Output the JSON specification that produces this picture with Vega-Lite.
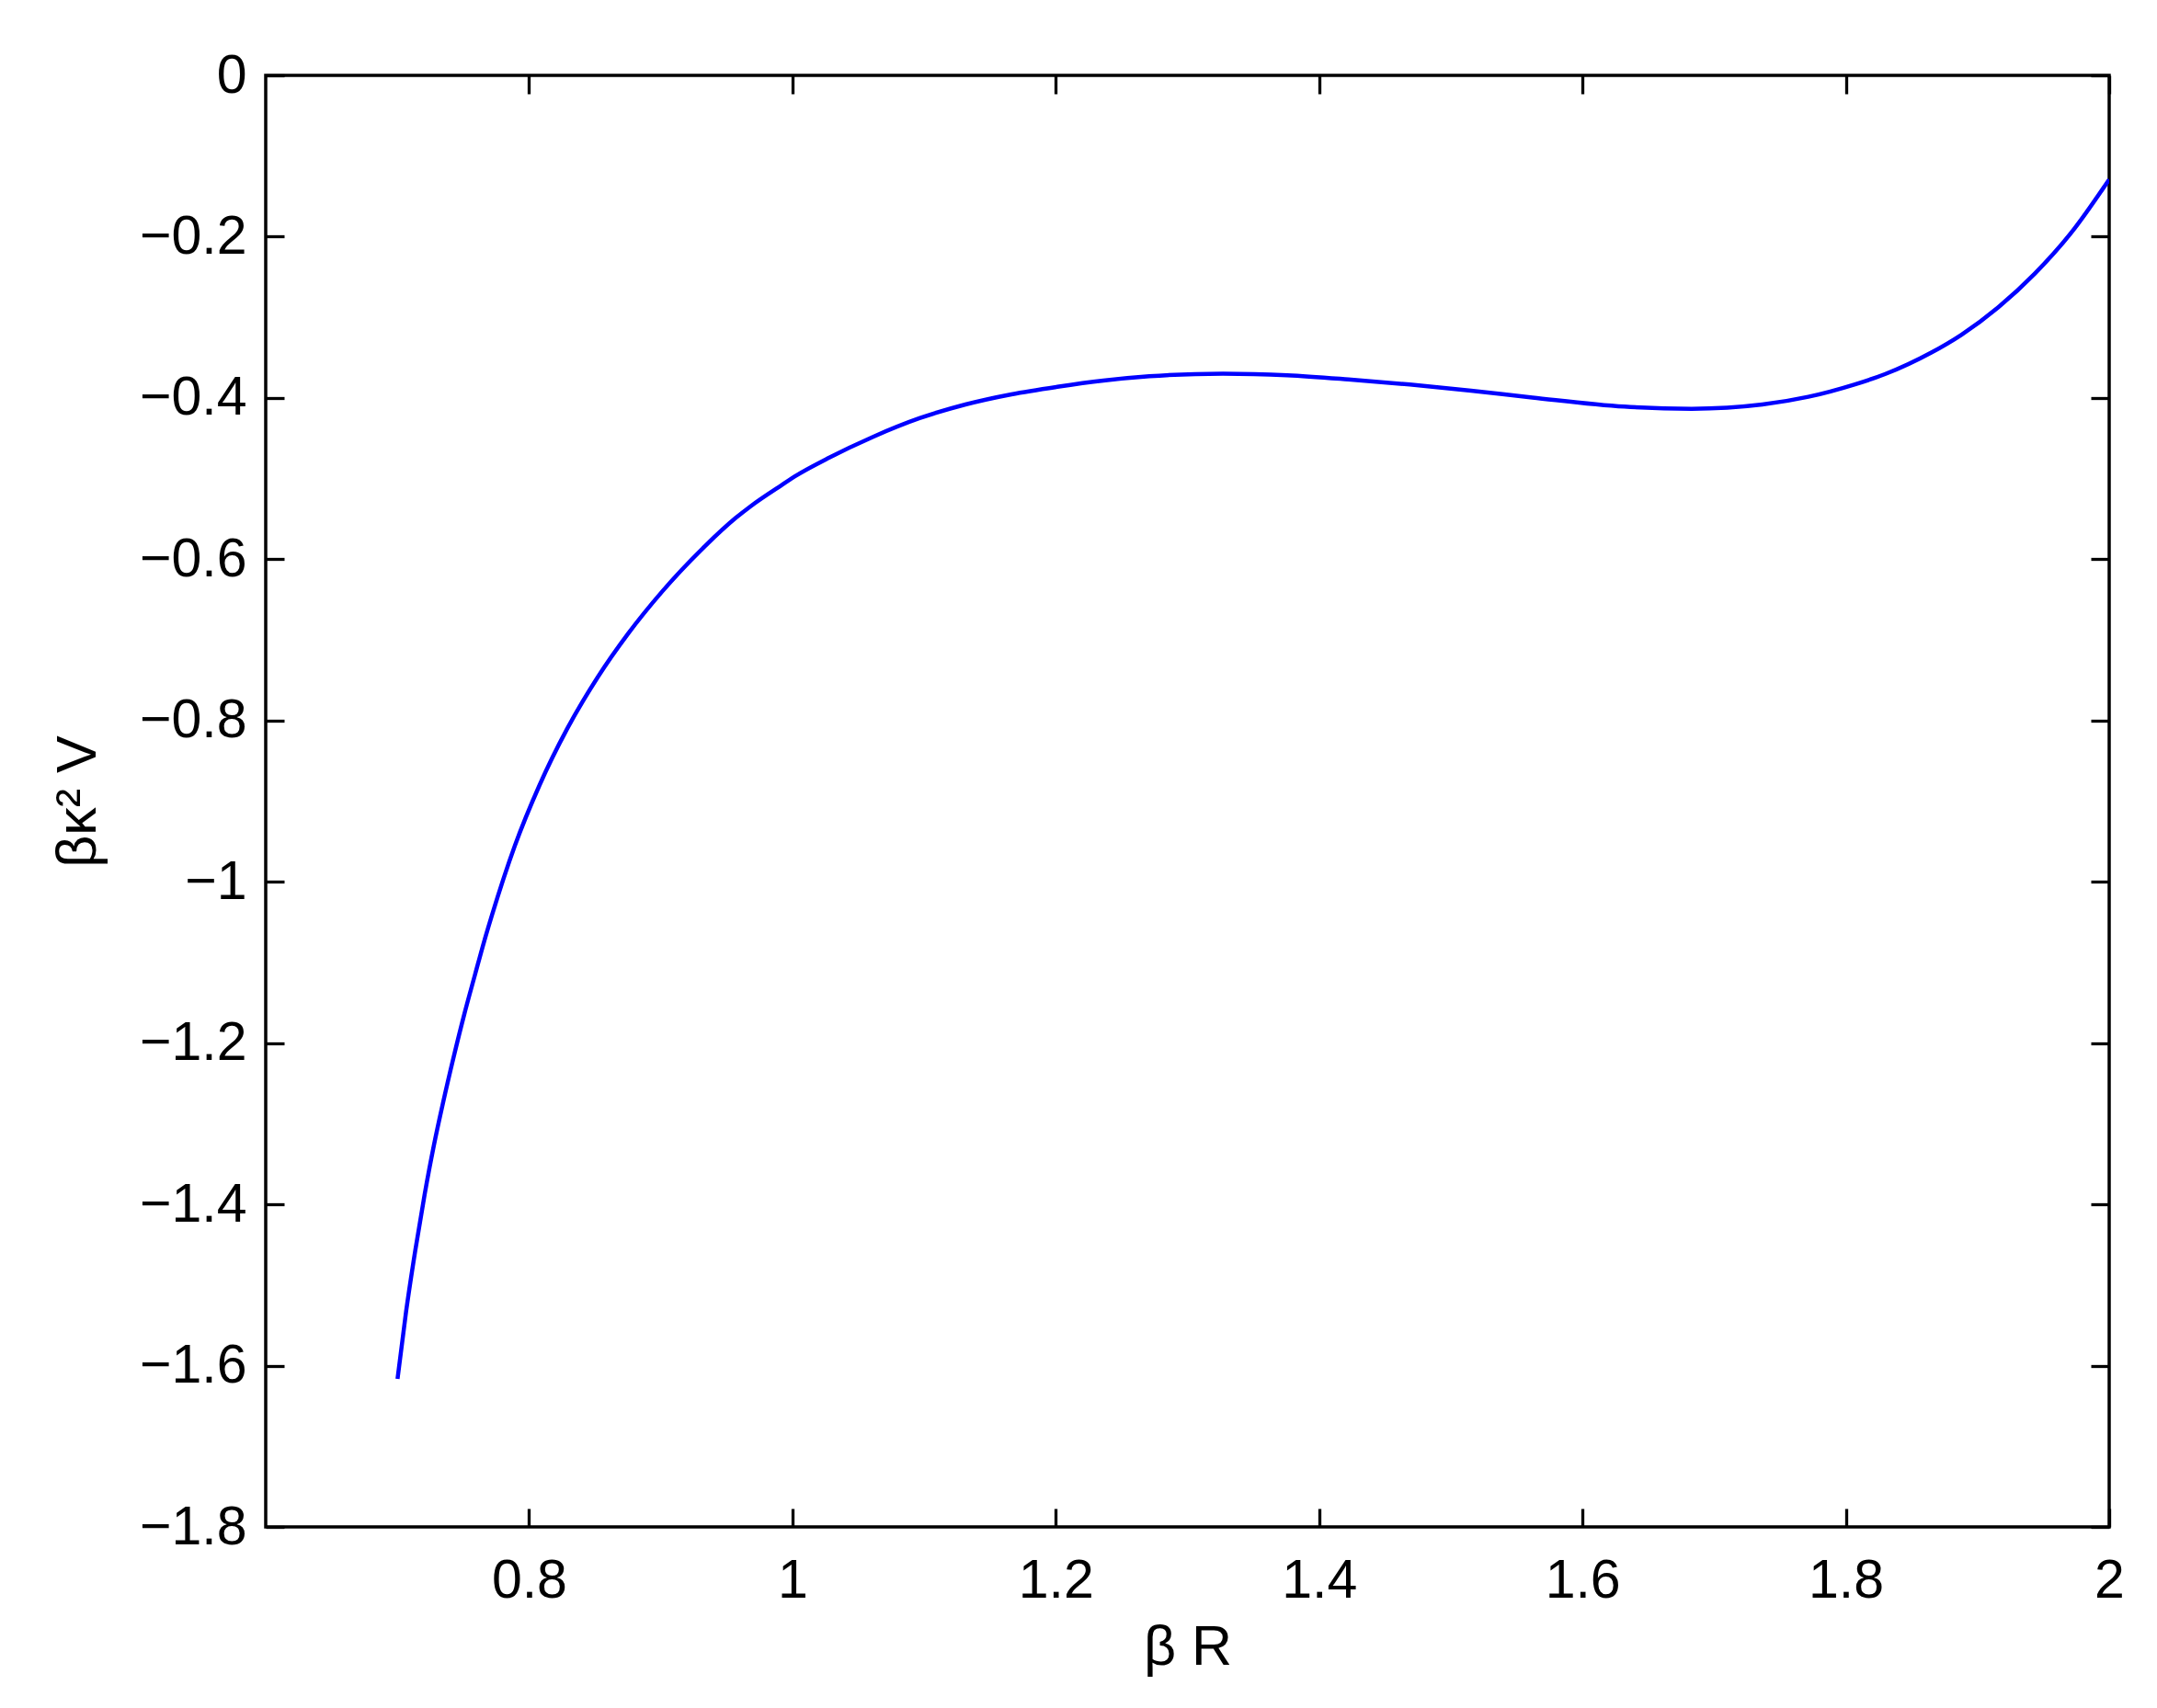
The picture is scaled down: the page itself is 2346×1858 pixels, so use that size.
{
  "$schema": "https://vega.github.io/schema/vega-lite/v6.json",
  "width": 2005,
  "height": 1579,
  "autosize": {"type": "none"},
  "padding": {"left": 289, "top": 82, "right": 52, "bottom": 197},
  "background": "white",
  "config": {
    "view": {"stroke": "black", "strokeWidth": 3.5},
    "font": "Liberation Sans",
    "axis": {
      "domain": false,
      "grid": false,
      "ticks": true,
      "tickColor": "black",
      "tickWidth": 3.3,
      "tickSize": -20,
      "labelFont": "Liberation Sans",
      "labelFontSize": 59,
      "labelColor": "black",
      "labelFlush": false,
      "labelOverlap": false,
      "titleFont": "Liberation Sans",
      "titleFontSize": 61,
      "titleFontWeight": "normal",
      "titleColor": "black"
    }
  },
  "data": {
    "values": [
      {"x": 0.7001, "y": -1.6165},
      {"x": 0.7066, "y": -1.533},
      {"x": 0.7136, "y": -1.4569},
      {"x": 0.7206, "y": -1.3885},
      {"x": 0.7276, "y": -1.3277},
      {"x": 0.7346, "y": -1.2745},
      {"x": 0.7427, "y": -1.2175},
      {"x": 0.7508, "y": -1.1643},
      {"x": 0.759, "y": -1.1149},
      {"x": 0.766, "y": -1.0733},
      {"x": 0.7718, "y": -1.0415},
      {"x": 0.7892, "y": -0.9553},
      {"x": 0.8079, "y": -0.8803},
      {"x": 0.8288, "y": -0.8107},
      {"x": 0.8521, "y": -0.7464},
      {"x": 0.8753, "y": -0.6921},
      {"x": 0.901, "y": -0.6402},
      {"x": 0.9336, "y": -0.5838},
      {"x": 0.9568, "y": -0.549},
      {"x": 0.9685, "y": -0.534},
      {"x": 0.9917, "y": -0.5082},
      {"x": 1.0034, "y": -0.4958},
      {"x": 1.0266, "y": -0.4752},
      {"x": 1.0616, "y": -0.448},
      {"x": 1.0965, "y": -0.4252},
      {"x": 1.1314, "y": -0.4081},
      {"x": 1.1663, "y": -0.3955},
      {"x": 1.2012, "y": -0.3862},
      {"x": 1.2361, "y": -0.3785},
      {"x": 1.271, "y": -0.3731},
      {"x": 1.3269, "y": -0.3698},
      {"x": 1.3758, "y": -0.3718},
      {"x": 1.4223, "y": -0.377},
      {"x": 1.4689, "y": -0.3834},
      {"x": 1.5154, "y": -0.391},
      {"x": 1.562, "y": -0.3995},
      {"x": 1.6318, "y": -0.4108},
      {"x": 1.683, "y": -0.4134},
      {"x": 1.7366, "y": -0.4081},
      {"x": 1.7715, "y": -0.3986},
      {"x": 1.8064, "y": -0.3834},
      {"x": 1.8297, "y": -0.3705},
      {"x": 1.8646, "y": -0.344},
      {"x": 1.8879, "y": -0.3215},
      {"x": 1.9158, "y": -0.2875},
      {"x": 1.9437, "y": -0.2455},
      {"x": 1.9717, "y": -0.194},
      {"x": 2.0, "y": -0.129}
    ]
  },
  "layer": [
    {
      "mark": {"type": "line", "color": "#0000ff", "strokeWidth": 4.5, "interpolate": "monotone", "clip": true},
      "encoding": {
        "x": {
          "field": "x", "type": "quantitative",
          "scale": {"domain": [0.6, 2], "nice": false, "zero": false},
          "axis": {
            "orient": "bottom",
            "values": [0.8, 1, 1.2, 1.4, 1.6, 1.8, 2],
            "format": "~g",
            "labelPadding": 49,
            "title": "β R",
            "titleX": 1002.5,
            "titleY": 149,
            "titleAlign": "center",
            "titleBaseline": "alphabetic",
            "titleAngle": 0
          }
        },
        "y": {
          "field": "y", "type": "quantitative",
          "scale": {"domain": [-1.8, 0], "nice": false, "zero": false},
          "axis": {
            "orient": "left",
            "values": [0, -0.2, -0.4, -0.6, -0.8, -1, -1.2, -1.4, -1.6, -1.8],
            "format": "~g",
            "labelPadding": 41,
            "title": "βκ² V",
            "titleX": -186,
            "titleY": 789.5,
            "titleAngle": -90,
            "titleAlign": "center",
            "titleBaseline": "alphabetic"
          }
        }
      }
    },
    {
      "mark": {"type": "line", "strokeOpacity": 0},
      "encoding": {
        "x": {
          "field": "x", "type": "quantitative",
          "scale": {"domain": [0.6, 2], "nice": false, "zero": false},
          "axis": {
            "orient": "top",
            "values": [0.8, 1, 1.2, 1.4, 1.6, 1.8, 2],
            "labels": false,
            "title": null
          }
        },
        "y": {
          "field": "y", "type": "quantitative",
          "scale": {"domain": [-1.8, 0], "nice": false, "zero": false},
          "axis": {
            "orient": "right",
            "values": [0, -0.2, -0.4, -0.6, -0.8, -1, -1.2, -1.4, -1.6, -1.8],
            "labels": false,
            "title": null
          }
        }
      }
    }
  ],
  "resolve": {"axis": {"x": "independent", "y": "independent"}}
}
